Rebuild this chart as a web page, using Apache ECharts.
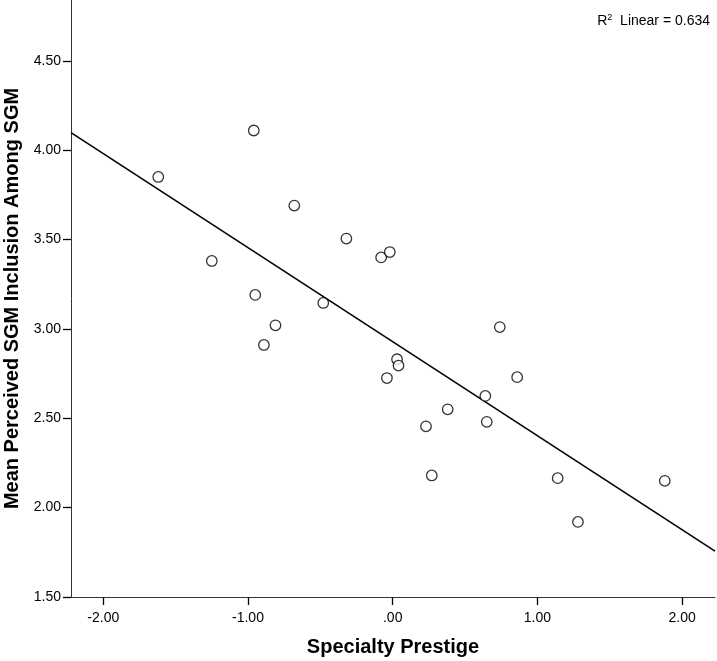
<!DOCTYPE html>
<html>
<head>
<meta charset="utf-8">
<script src="https://cdn.jsdelivr.net/npm/echarts@6/dist/echarts.min.js"></script>
<style>html,body{margin:0;padding:0;background:#fff}#c{width:717px;height:661px}</style>
</head>
<body>
<div id="c"></div>
<script>
// Data
var prestige = [-0.96, -1.62, -0.68, -0.32, -0.08, -0.02, -1.25, -0.95, -0.48, -0.81, -0.89,
                0.74, 0.03, 0.04, -0.04, 0.86, 0.64, 0.38, 0.65, 0.23, 0.27, 1.14, 1.88, 1.28];
var inclusion = [4.11, 3.85, 3.69, 3.505, 3.40, 3.43, 3.38, 3.19, 3.145, 3.02, 2.91,
                 3.01, 2.83, 2.795, 2.725, 2.73, 2.625, 2.55, 2.48, 2.455, 2.18, 2.165, 2.15, 1.92];
var fitX = [-2.223, 2.227];
var fitY = [4.098, 1.757];
var xTicks = [-2, -1, 0, 1, 2];
var xName = 'Specialty Prestige';
var yName = 'Mean Perceived SGM Inclusion Among SGM';
var r2Label = 'Linear = 0.634';

function fmt(v) {
  var s = Number(v).toFixed(2);
  if (s === '0.00' || s === '-0.00') return '.00';
  return s;
}

var pts = prestige.map(function (x, i) { return [x, inclusion[i]]; });
var fit = fitX.map(function (x, i) { return [x, fitY[i]]; });

var chart = echarts.init(document.getElementById('c'), null, { renderer: 'canvas' });
var font = 'Liberation Sans, Arial, sans-serif';
chart.setOption({
  animation: false,
  grid: { left: 71, right: 2, top: 0, bottom: 64, containLabel: false, outerBoundsMode: 'none' },
  xAxis: {
    type: 'value', min: -2.223, max: 2.227,
    name: xName, nameLocation: 'middle', nameGap: 40,
    nameTextStyle: { fontFamily: font, fontSize: 20, fontWeight: 'bold', color: '#000' },
    axisLine: { show: true, onZero: false, lineStyle: { color: '#333', width: 1 } },
    axisTick: { show: true, length: 8, customValues: xTicks, lineStyle: { color: '#000', width: 1.3 } },
    axisLabel: { customValues: xTicks, formatter: fmt, margin: 14, fontFamily: font, fontSize: 14, color: '#000' },
    splitLine: { show: false }
  },
  yAxis: {
    type: 'value', min: 1.5, max: 4.84, interval: 0.5,
    name: yName, nameLocation: 'middle', nameGap: 44,
    nameTextStyle: { fontFamily: font, fontSize: 20, fontWeight: 'bold', color: '#000' },
    axisLine: { show: true, onZero: false, lineStyle: { color: '#333', width: 1 } },
    axisTick: { show: true, length: 8, lineStyle: { color: '#000', width: 1.3 } },
    axisLabel: { formatter: fmt, margin: 10, fontFamily: font, fontSize: 14, color: '#000', showMaxLabel: false },
    splitLine: { show: false }
  },
  series: [
    {
      type: 'line', data: fit, symbol: 'none', silent: true,
      lineStyle: { color: '#000', width: 1.6 }, z: 1
    },
    {
      type: 'scatter', data: pts, symbol: 'circle', symbolSize: 10.5,
      itemStyle: { color: '#fff', borderColor: '#000', borderWidth: 1.3 }, z: 2
    }
  ],
  graphic: [{
    type: 'text', right: 7, top: 13,
    style: {
      text: '{r|R}{s|2}{r|  ' + r2Label + '}',
      rich: {
        r: { fontFamily: font, fontSize: 14, fill: '#000', verticalAlign: 'bottom' },
        s: { fontFamily: font, fontSize: 9, fill: '#000', verticalAlign: 'top', padding: [0, 0, 6, 0] }
      }
    }
  }]
});
</script>
</body>
</html>
